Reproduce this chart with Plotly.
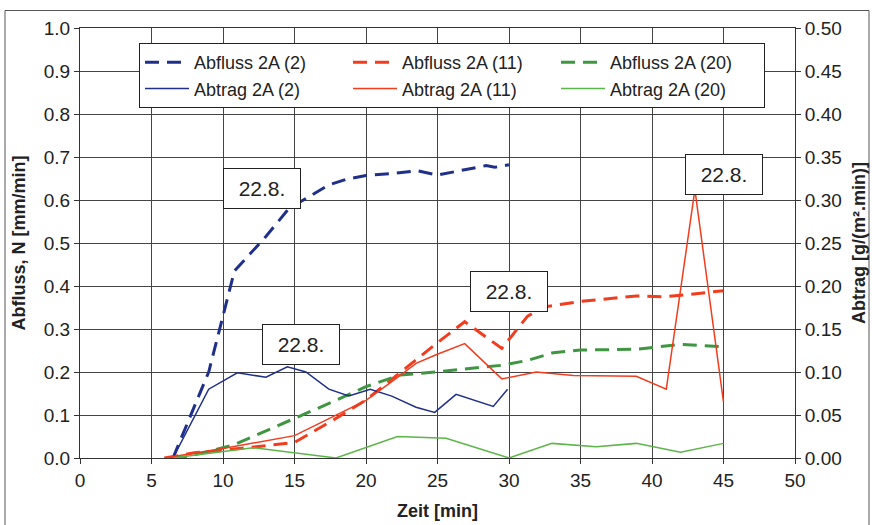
import plotly.graph_objects as go

# Zeit [min] and Abfluss [mm/min] (left axis)
t_abfluss_2 = [6.5, 9.0, 10.8, 13.0, 14.6, 15.6, 17.4, 18.6, 20.0, 22.0, 23.6, 25.0, 27.0, 28.4, 29.0, 30.0]
abfluss_2 = [0.0, 0.20, 0.435, 0.515, 0.58, 0.60, 0.635, 0.648, 0.657, 0.662, 0.668, 0.658, 0.670, 0.680, 0.676, 0.682]

t_abfluss_11 = [5.9, 8.0, 10.0, 12.3, 15.0, 17.7, 20.0, 24.8, 26.9, 29.5, 31.3, 32.6, 35.0, 38.9, 40.8, 42.2, 45.0]
abfluss_11 = [0.0, 0.012, 0.018, 0.026, 0.036, 0.088, 0.135, 0.263, 0.317, 0.255, 0.33, 0.352, 0.364, 0.377, 0.375, 0.379, 0.389]

t_abfluss_20 = [6.5, 7.5, 10.7, 15.0, 17.7, 20.0, 22.4, 24.9, 28.1, 29.6, 31.3, 33.1, 35.0, 38.9, 42.0, 45.0]
abfluss_20 = [0.0, 0.003, 0.03, 0.092, 0.131, 0.166, 0.193, 0.200, 0.210, 0.216, 0.227, 0.245, 0.251, 0.253, 0.264, 0.259]

# Zeit [min] and Abtrag [g/(m².min)] (right axis)
t_abtrag_2 = [6.5, 9.0, 11.0, 13.0, 14.5, 15.8, 17.4, 18.8, 20.3, 21.8, 23.5, 24.8, 26.3, 28.9, 29.9]
abtrag_2 = [0.0, 0.080, 0.099, 0.094, 0.106, 0.100, 0.080, 0.072, 0.080, 0.072, 0.059, 0.053, 0.074, 0.060, 0.080]

t_abtrag_11 = [5.9, 10.0, 15.0, 17.9, 20.0, 21.9, 23.5, 24.9, 26.9, 29.5, 31.9, 34.5, 38.9, 41.0, 43.0, 45.0]
abtrag_11 = [0.0, 0.011, 0.026, 0.050, 0.067, 0.090, 0.110, 0.120, 0.133, 0.092, 0.100, 0.096, 0.095, 0.080, 0.312, 0.065]

t_abtrag_20 = [6.5, 12.1, 17.9, 22.2, 25.6, 30.0, 33.0, 36.1, 38.9, 42.0, 45.0]
abtrag_20 = [0.0, 0.012, 0.0, 0.025, 0.023, 0.0, 0.017, 0.013, 0.017, 0.0066, 0.017]

# Date labels: (x, y on left axis)
label_text = "22.8."
label_x = [12.7, 15.45, 30.0, 45.0]
label_y = [0.627, 0.263, 0.387, 0.659]

BLUE = "#1f2f8c"
RED = "#f23c1e"
GREEN_D = "#3f9640"
GREEN_S = "#5cb548"
FONT = "Liberation Sans, Arial, sans-serif"
DASH = "14px,8px"

fig = go.Figure()

fig.add_trace(go.Scatter(x=t_abfluss_2, y=abfluss_2, name="Abfluss 2A (2)", mode="lines",
                         line=dict(color=BLUE, width=3, dash=DASH)))
fig.add_trace(go.Scatter(x=t_abfluss_11, y=abfluss_11, name="Abfluss 2A (11)", mode="lines",
                         line=dict(color=RED, width=3, dash=DASH)))
fig.add_trace(go.Scatter(x=t_abfluss_20, y=abfluss_20, name="Abfluss 2A (20)", mode="lines",
                         line=dict(color=GREEN_D, width=3, dash=DASH)))
fig.add_trace(go.Scatter(x=t_abtrag_2, y=abtrag_2, name="Abtrag 2A (2)", mode="lines", yaxis="y2",
                         line=dict(color=BLUE, width=1.5)))
fig.add_trace(go.Scatter(x=t_abtrag_11, y=abtrag_11, name="Abtrag 2A (11)", mode="lines", yaxis="y2",
                         line=dict(color=RED, width=1.5)))
fig.add_trace(go.Scatter(x=t_abtrag_20, y=abtrag_20, name="Abtrag 2A (20)", mode="lines", yaxis="y2",
                         line=dict(color=GREEN_S, width=1.5)))

for lx, ly in zip(label_x, label_y):
    fig.add_annotation(x=lx, y=ly, xref="x", yref="y", text=label_text, showarrow=False,
                       font=dict(family=FONT, size=21, color="#222"),
                       bgcolor="white", bordercolor="#222", borderwidth=1,
                       width=74, height=37, borderpad=1)

# outer chart frame
fig.add_shape(type="rect", xref="paper", yref="paper",
              x0=(5 - 80) / 715, x1=(869 - 80) / 715, y0=(458 - 540) / 430, y1=(458 - 10.5) / 430,
              line=dict(color="#555", width=1), layer="below")

axis_common = dict(showline=True, linecolor="#333", linewidth=1, ticks="outside",
                   ticklen=5, tickcolor="#333", tickfont=dict(family=FONT, size=19, color="#222"),
                   zeroline=False, automargin=False)

fig.update_layout(
    width=872, height=525,
    margin=dict(l=80, r=77, t=28, b=67),
    paper_bgcolor="white", plot_bgcolor="white",
    font=dict(family=FONT, color="#222"),
    xaxis=dict(range=[0, 50], dtick=5, showgrid=True, gridcolor="#444", gridwidth=1,
               mirror=True,
               title=dict(text="<b>Zeit [min]</b>", font=dict(family=FONT, size=18), standoff=14),
               **axis_common),
    yaxis=dict(range=[0, 1], dtick=0.1, tickformat=".1f", showgrid=True, gridcolor="#444", gridwidth=1,
               title=dict(text="<b>Abfluss, N [mm/min]</b>", font=dict(family=FONT, size=18), standoff=13),
               **axis_common),
    yaxis2=dict(range=[0, 0.5], dtick=0.05, tickformat=".2f", overlaying="y", side="right",
                showgrid=False,
                title=dict(text="<b>Abtrag [g/(m².min)]</b>", font=dict(family=FONT, size=18), standoff=11),
                **axis_common),
    legend=dict(orientation="h", x=(139 - 80) / 715, y=(458 - 43) / 430, xanchor="left", yanchor="top",
                bgcolor="white", bordercolor="#222", borderwidth=1,
                font=dict(family=FONT, size=18, color="#222"),
                entrywidth=149, entrywidthmode="pixels", itemwidth=44,
                traceorder="normal"),
    showlegend=True,
)

fig.write_html("out.html")
